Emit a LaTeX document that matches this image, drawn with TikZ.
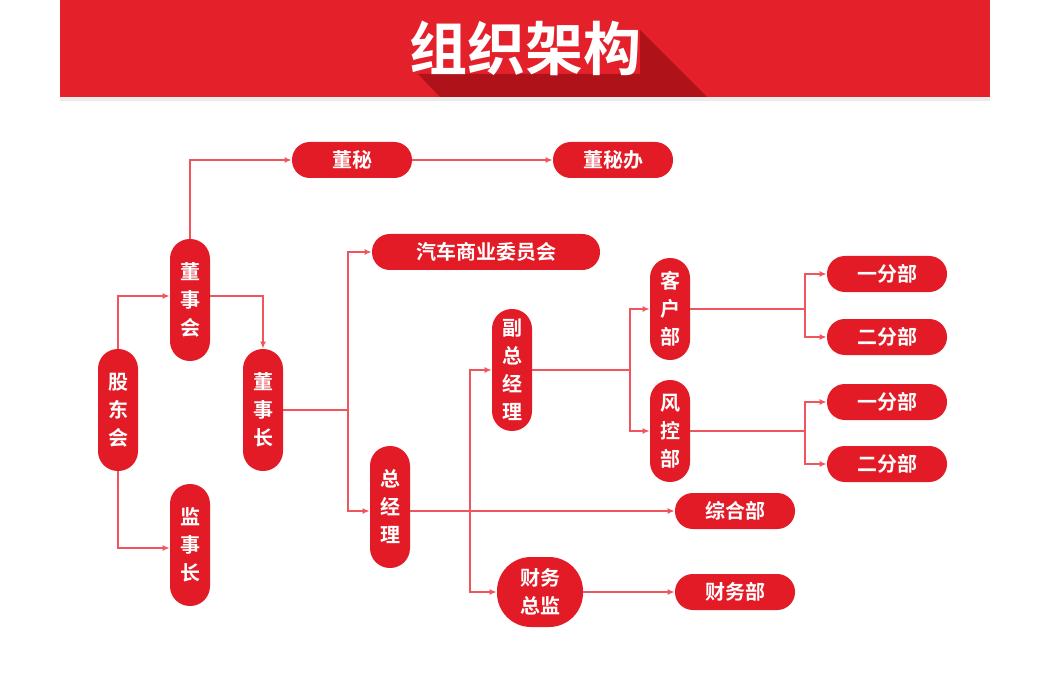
\documentclass[tikz,border=0pt]{standalone}
\usepackage{fontspec}
\newfontfamily\cjk{Noto Sans CJK SC}
\newfontfamily\cjkbold{Noto Sans CJK SC Bold}
\usepackage{tikz}
\usetikzlibrary{calc,positioning,arrows.meta}
\definecolor{bannerred}{HTML}{E4212B}
\definecolor{shadowred}{HTML}{B0121A}
\definecolor{pillred}{HTML}{E31B26}
\definecolor{linered}{HTML}{F0545C}
\tikzset{
  pill/.style={fill=pillred, text=white, font=\cjkbold\fontsize{10}{14}\selectfont,
    inner sep=0pt, align=center},
  vpill/.style={pill, minimum width=20pt, minimum height=61pt, rounded corners=9.9pt},
  hpill/.style={pill, minimum width=60pt, minimum height=18pt, rounded corners=8.9pt},
  link/.style={draw=linered, line width=0.8pt, -{Latex[length=3.5pt,width=3pt]}},
  plain/.style={draw=linered, line width=0.8pt}
}
\begin{document}
\begin{tikzpicture}[x=0.5pt,y=-0.5pt]
\useasboundingbox (0,0) rectangle (1049,700);
\fill[white] (0,0) rectangle (1049,700);
% banner
\fill[black!8] (60,97) rectangle (990,101);
\fill[bannerred] (60,0) rectangle (990,97);
\fill[shadowred] (418,74) -- (640,74) -- (640,30) -- (707,97) -- (440,97) -- cycle;
\node[text=white, font=\cjkbold\fontsize{29}{29}\selectfont] (title) at (525,48) {组织架构};
% nodes
\node[vpill] (gdh) at (118,410) {股\\东\\会};
\node[vpill] (dsh) at (190,300) {董\\事\\会};
\node[vpill] (dsz) at (263,410) {董\\事\\长};
\node[vpill] (jsz) at (190,545) {监\\事\\长};
\node[hpill] (dm) at (352,160) {董秘};
\node[hpill] (dmb) at (613,160) {董秘办};
\node[hpill, minimum width=114pt] (wyh) at (486,252) {汽车商业委员会};
\node[vpill] (zjl) at (390,507) {总\\经\\理};
\node[vpill] (fzjl) at (512,370) {副\\总\\经\\理};
\node[pill, minimum width=43pt, minimum height=35pt, rounded corners=17pt] (cwzj) at (540,592) {财务\\总监};
\node[vpill, minimum height=51pt] (khb) at (670,309) {客\\户\\部};
\node[vpill, minimum height=51pt] (fkb) at (670,431) {风\\控\\部};
\node[hpill] (yfb1) at (887,274) {一分部};
\node[hpill] (efb1) at (887,337) {二分部};
\node[hpill] (yfb2) at (887,402) {一分部};
\node[hpill] (efb2) at (887,464) {二分部};
\node[hpill] (zhb) at (735,511) {综合部};
\node[hpill] (cwb) at (735,592) {财务部};
% connectors
\draw[link] (gdh.north) |- (dsh.west |- 0,296);
\draw[link] (dsh.east |- 0,296) -| (dsz.north);
\draw[link] (gdh.south) |- (jsz.west |- 0,548);
\draw[link] (dsh.north) |- (dm.west);
\draw[link] (dm) -- (dmb);
\coordinate (j1) at (348,410);
\draw[plain] (dsz.east |- j1) -- (j1);
\draw[link] (j1) |- (wyh.west);
\draw[link] (j1) |- (zjl.west |- zhb);
\draw[link] (zjl.east |- zhb) -- (zhb.west);
\coordinate (j2) at (470,511);
\draw[link] (j2) |- (fzjl.west);
\draw[link] (j2) |- (cwzj.west);
\draw[link] (cwzj) -- (cwb);
\coordinate (j3) at (630,370);
\draw[plain] (fzjl.east) -- (j3);
\draw[link] (j3) |- (khb.west);
\draw[link] (j3) |- (fkb.west);
\coordinate (j4) at (805,309);
\draw[plain] (khb.east) -- (j4);
\draw[link] (j4) |- (yfb1.west);
\draw[link] (j4) |- (efb1.west);
\coordinate (j5) at (805,431);
\draw[plain] (fkb.east) -- (j5);
\draw[link] (j5) |- (yfb2.west);
\draw[link] (j5) |- (efb2.west);
\end{tikzpicture}
\end{document}
